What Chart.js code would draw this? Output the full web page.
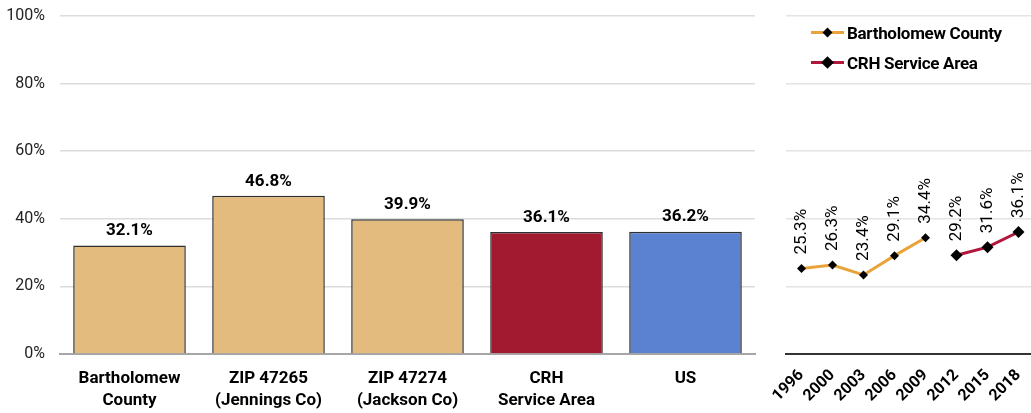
<!DOCTYPE html>
<html lang="en">
<head>
    <meta charset="UTF-8">
    <title>Bar and trend chart</title>
    <script src="https://cdn.jsdelivr.net/npm/chart.js"></script>
    <style>
        body {
            margin: 0;
            padding: 0;
            width: 1031px;
            height: 413px;
            overflow: hidden;
            background: #ffffff;
            position: relative;
            font-family: Roboto, 'Liberation Sans', sans-serif;
        }
        #barWrap { position: absolute; left: 0; top: 0; width: 760px; height: 413px; }
        #lineWrap { position: absolute; left: 760px; top: 0; width: 280px; height: 413px; }
        .legend {
            position: absolute;
            left: 811px;
            top: 18px;
            font-weight: bold;
            font-size: 17px;
            letter-spacing: -0.3px;
            color: #000;
        }
        .legend .row { height: 30px; display: flex; align-items: center; }
        .legend .sym { position: relative; width: 33px; height: 14px; margin-right: 3px; }
        .legend .sym .ln { position: absolute; left: 0; right: 0; top: 5px; height: 3px; }
        .legend .sym .dm { position: absolute; background: #000; transform: rotate(45deg); }
    </style>
</head>
<body>
    <div id="barWrap"><canvas id="barChart" width="760" height="413"></canvas></div>
    <div id="lineWrap"><canvas id="lineChart" width="280" height="413"></canvas></div>
    <div class="legend">
        <div class="row">
            <div class="sym"><div class="ln" style="background:#E8A33A"></div><div class="dm" style="left:13px;top:3px;width:7px;height:7px"></div></div>
            <span>Bartholomew County</span>
        </div>
        <div class="row">
            <div class="sym"><div class="ln" style="background:#B0173A"></div><div class="dm" style="left:12px;top:2px;width:9px;height:9px"></div></div>
            <span>CRH Service Area</span>
        </div>
    </div>

    <script>
        // bar chart data
        const barLabels = [
            ['Bartholomew', 'County'],
            ['ZIP 47265', '(Jennings Co)'],
            ['ZIP 47274', '(Jackson Co)'],
            ['CRH', 'Service Area'],
            ['US']
        ];
        const barValues = [32.1, 46.8, 39.9, 36.1, 36.2];
        const barColors = ['#E3BB7E', '#E3BB7E', '#E3BB7E', '#A21A2F', '#5B82D0'];

        // trend data
        const years = ['1996', '2000', '2003', '2006', '2009', '2012', '2015', '2018'];
        const bartholomewTrend = [25.3, 26.3, 23.4, 29.1, 34.4, null, null, null];
        const crhTrend = [null, null, null, null, null, 29.2, 31.6, 36.1];

        const fontFamily = "Roboto, 'Liberation Sans', sans-serif";
        Chart.defaults.font.family = fontFamily;
        Chart.defaults.color = '#000';

        // draws value labels above the bars / points
        const valueLabels = {
            id: 'valueLabels',
            afterDatasetsDraw(chart, args, opts) {
                const ctx = chart.ctx;
                ctx.save();
                ctx.fillStyle = '#000';
                chart.data.datasets.forEach((ds, i) => {
                    const meta = chart.getDatasetMeta(i);
                    meta.data.forEach((el, j) => {
                        const v = ds.data[j];
                        if (v === null || v === undefined) return;
                        const txt = v.toFixed(1) + '%';
                        if (opts.rotate) {
                            ctx.font = 'normal 17px ' + fontFamily;
                            ctx.save();
                            ctx.translate(el.x, el.y - 14);
                            ctx.rotate(-Math.PI / 2);
                            ctx.textAlign = 'left';
                            ctx.textBaseline = 'middle';
                            ctx.fillText(txt, 0, 0);
                            ctx.restore();
                        } else {
                            ctx.font = 'bold 17px ' + fontFamily;
                            ctx.textAlign = 'center';
                            ctx.textBaseline = 'bottom';
                            ctx.fillText(txt, el.x, el.y - 6);
                        }
                    });
                });
                ctx.restore();
            }
        };

        new Chart(document.getElementById('barChart'), {
            type: 'bar',
            data: {
                labels: barLabels,
                datasets: [{
                    data: barValues,
                    backgroundColor: barColors,
                    borderColor: '#2e2e2e',
                    borderWidth: 1.5,
                    categoryPercentage: 0.81,
                    barPercentage: 1
                }]
            },
            options: {
                responsive: false,
                animation: false,
                layout: { padding: { top: 16, right: 5, left: 0, bottom: 0 } },
                scales: {
                    y: {
                        min: 0,
                        max: 100,
                        ticks: {
                            stepSize: 20,
                            padding: 15,
                            color: '#222',
                            font: { size: 16 },
                            callback: v => v + '%'
                        },
                        grid: { color: '#dcdcdc', lineWidth: 1.5, drawTicks: false },
                        border: { display: false },
                        afterFit(scale) {
                            scale.width = 60;
                            scale.paddingTop = 0;
                            scale.paddingBottom = 0;
                        }
                    },
                    x: {
                        ticks: {
                            padding: 6,
                            font: { size: 17, weight: 'bold', lineHeight: 1.3 },
                            maxRotation: 0
                        },
                        grid: { display: false },
                        border: { color: '#a6a6a6', width: 2 },
                        afterFit(scale) { scale.height = 59; }
                    }
                },
                plugins: {
                    legend: { display: false },
                    tooltip: { enabled: false },
                    valueLabels: { rotate: false }
                }
            },
            plugins: [valueLabels]
        });

        new Chart(document.getElementById('lineChart'), {
            type: 'line',
            data: {
                labels: years,
                datasets: [
                    {
                        label: 'Bartholomew County',
                        data: bartholomewTrend,
                        borderColor: '#E8A33A',
                        borderWidth: 3,
                        pointStyle: 'rectRot',
                        pointRadius: 4.5,
                        pointBackgroundColor: '#000',
                        pointBorderColor: '#000',
                        pointBorderWidth: 0,
                        tension: 0
                    },
                    {
                        label: 'CRH Service Area',
                        data: crhTrend,
                        borderColor: '#B0173A',
                        borderWidth: 3,
                        pointStyle: 'rectRot',
                        pointRadius: 6,
                        pointBackgroundColor: '#000',
                        pointBorderColor: '#000',
                        pointBorderWidth: 0,
                        tension: 0
                    }
                ]
            },
            options: {
                responsive: false,
                animation: false,
                layout: { padding: { top: 16, right: 6, left: 26, bottom: 0 } },
                scales: {
                    y: {
                        min: 0,
                        max: 100,
                        ticks: { stepSize: 20, display: false },
                        grid: { color: '#e4e4e4', lineWidth: 1.5, drawTicks: false },
                        border: { display: false }
                    },
                    x: {
                        offset: true,
                        ticks: {
                            autoSkip: false,
                            minRotation: 45,
                            maxRotation: 45,
                            padding: 4,
                            font: { size: 16, weight: 'bold' }
                        },
                        grid: { display: false },
                        border: { color: '#333', width: 2 },
                        afterFit(scale) { scale.height = 59; }
                    }
                },
                plugins: {
                    legend: { display: false },
                    tooltip: { enabled: false },
                    valueLabels: { rotate: true }
                }
            },
            plugins: [valueLabels]
        });
    </script>
</body>
</html>
